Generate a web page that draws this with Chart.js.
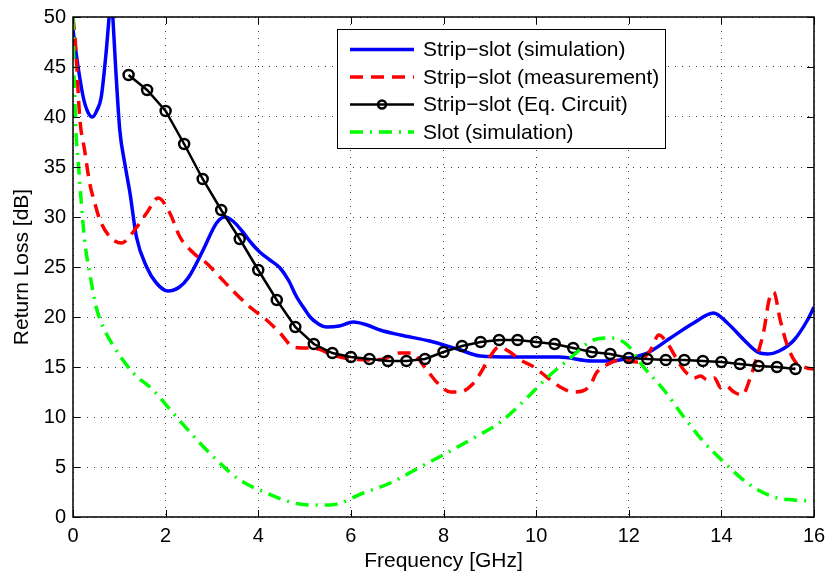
<!DOCTYPE html>
<html>
<head>
<meta charset="utf-8">
<script src="https://cdn.jsdelivr.net/npm/chart.js@4"></script>
<style>
  html, body { margin: 0; padding: 0; background: #fff; }
  #wrap { width: 827px; height: 577px; }
</style>
</head>
<body>
<div id="wrap"><canvas id="rl-chart" width="827" height="577"></canvas></div>
<script>
const FONT = `'Liberation Sans', Arial, Helvetica, sans-serif`;

// Strip-slot (simulation)
const simFreq = [0, 0.11, 0.22, 0.32, 0.42, 0.52, 0.61, 0.72, 0.78, 0.82, 0.86, 0.92, 1.01, 1.12, 1.23, 1.37, 1.59, 1.8, 2.05, 2.3, 2.5, 2.81, 3.1, 3.28, 3.45, 3.65, 3.85, 4.03, 4.25, 4.47, 4.65, 4.83, 5.0, 5.12, 5.3, 5.48, 5.75, 6.05, 6.35, 6.63, 7.07, 7.7, 8.3, 8.8, 9.5, 10.0, 10.5, 11.2, 11.6, 12.0, 12.4, 12.9, 13.4, 13.83, 14.13, 14.49, 14.78, 15.0, 15.25, 15.57, 15.86, 16];
const simRL = [48.7, 45, 42, 40.5, 40, 40.7, 42, 46.7, 50, 52.5, 50, 45, 38.7, 35.3, 32.4, 28, 25, 23.4, 22.6, 23, 24, 26.7, 29.4, 30, 29.6, 28.6, 27.4, 26.5, 25.7, 24.9, 23.7, 22, 20.8, 20, 19.3, 19, 19.1, 19.5, 19.2, 18.7, 18.2, 17.6, 16.8, 16.1, 16.0, 16.0, 16.0, 15.6, 15.6, 15.9, 16.4, 17.9, 19.4, 20.4, 19.4, 17.7, 16.5, 16.3, 16.6, 17.7, 19.7, 21];

// Strip-slot (measurement)
const measFreq = [0, 0.05, 0.15, 0.25, 0.36, 0.47, 0.58, 0.8, 1.05, 1.33, 1.59, 1.84, 2.09, 2.31, 2.6, 2.88, 3.17, 3.5, 3.82, 4.18, 4.47, 4.76, 5.0, 5.3, 5.6, 6.0, 6.4, 6.7, 7.06, 7.3, 7.64, 7.85, 8.15, 8.36, 8.61, 8.8, 9.0, 9.2, 9.4, 9.66, 9.95, 10.23, 10.52, 10.8, 11.0, 11.17, 11.3, 11.45, 11.82, 12.18, 12.47, 12.65, 12.83, 13.01, 13.19, 13.3, 13.41, 13.55, 13.7, 13.85, 13.99, 14.1, 14.27, 14.45, 14.63, 14.81, 14.92, 15.03, 15.13, 15.27, 15.42, 15.6, 15.85, 16];
const measRL = [50, 47.5, 39.7, 36.7, 33.4, 31.4, 29.7, 28, 27.4, 28.7, 30.4, 31.9, 30.4, 28, 26.4, 25.4, 24, 22.4, 21, 19.7, 18.4, 17, 16.9, 16.8, 16.2, 15.8, 15.7, 15.8, 16.4, 16.4, 14.7, 13.5, 12.5, 12.5, 13.2, 14.4, 16.0, 17.0, 16.6, 15.7, 15.0, 14.0, 13.0, 12.5, 12.6, 13.2, 14.4, 15.0, 15.7, 15.5, 16.7, 18.2, 17.4, 16.0, 14.7, 14.2, 13.9, 14.1, 13.7, 13.9, 12.9, 13.1, 12.5, 12.2, 14.0, 16.7, 18.7, 21.7, 22.5, 19.7, 17.2, 15.5, 14.9, 14.8];

// Strip-slot (Eq. Circuit)
const eqFreq = [1.2, 1.6, 2.0, 2.4, 2.8, 3.2, 3.6, 4.0, 4.4, 4.8, 5.2, 5.6, 6.0, 6.4, 6.8, 7.2, 7.6, 8.0, 8.4, 8.8, 9.2, 9.6, 10.0, 10.4, 10.8, 11.2, 11.6, 12.0, 12.4, 12.8, 13.2, 13.6, 14.0, 14.4, 14.8, 15.2, 15.6];
const eqRL = [44.2, 42.7, 40.6, 37.3, 33.8, 30.7, 27.8, 24.7, 21.7, 19.0, 17.3, 16.4, 16.0, 15.8, 15.6, 15.6, 15.8, 16.5, 17.1, 17.5, 17.7, 17.7, 17.5, 17.3, 16.9, 16.5, 16.3, 15.9, 15.8, 15.7, 15.7, 15.6, 15.5, 15.3, 15.1, 15.0, 14.8];

// Slot (simulation)
const slotFreq = [0, 0.02, 0.04, 0.07, 0.11, 0.18, 0.25, 0.36, 0.5, 0.65, 0.86, 1.3, 1.73, 2.16, 2.74, 3.1, 3.6, 4.18, 4.69, 5.12, 5.55, 6.27, 6.85, 7.5, 8.07, 8.65, 9.23, 9.8, 10.23, 10.74, 11.24, 11.6, 11.97, 12.32, 12.76, 13.19, 13.62, 14.05, 14.56, 15.13, 15.57, 16];
const slotRL = [50, 44.7, 41.7, 38, 35.7, 31.4, 27.7, 24.4, 21.0, 19.0, 17.2, 14.4, 12.7, 10.4, 7.4, 5.7, 3.7, 2.4, 1.5, 1.2, 1.2, 2.4, 3.4, 5.0, 6.4, 7.9, 9.5, 11.9, 13.9, 15.9, 17.7, 17.9, 17.2, 15.0, 12.7, 10.0, 7.5, 5.5, 3.4, 2.0, 1.7, 1.6];

const xTicks = [0, 2, 4, 6, 8, 10, 12, 14, 16];
const yTicks = [0, 5, 10, 15, 20, 25, 30, 35, 40, 45, 50];

let toPoints = (xs, ys) => xs.map((x, i) => ({ x: x, y: ys[i] }));

const BLUE = `#0000ff`;
const RED = `#ff0000`;
const BLACK = `#000000`;
const GREEN = `#00ff00`;

// box, inward ticks and legend drawn on top, MATLAB style
const framePlugin = {
	id: `frame`,
	afterDraw: (chart) =>
	{
		let ctx = chart.ctx;
		let a = chart.chartArea;
		let xs = chart.scales.x, ys = chart.scales.y;
		ctx.save();
		ctx.strokeStyle = `#000`;
		ctx.lineWidth = 1;
		ctx.setLineDash([]);
		ctx.beginPath();
		for (let v of xTicks)
		{
			let px = Math.round(xs.getPixelForValue(v)) + 0.5;
			ctx.moveTo(px, a.bottom); ctx.lineTo(px, a.bottom - 7);
			ctx.moveTo(px, a.top); ctx.lineTo(px, a.top + 7);
		}
		for (let v of yTicks)
		{
			let py = Math.round(ys.getPixelForValue(v)) + 0.5;
			ctx.moveTo(a.left, py); ctx.lineTo(a.left + 7, py);
			ctx.moveTo(a.right, py); ctx.lineTo(a.right - 7, py);
		}
		ctx.stroke();
		ctx.lineWidth = 1.5;
		ctx.strokeRect(a.left, a.top, a.right - a.left, a.bottom - a.top);

		// legend
		let lx = 337, ly = 29, lw = 328, lh = 119;
		ctx.fillStyle = `#fff`;
		ctx.fillRect(lx, ly, lw, lh);
		ctx.lineWidth = 1;
		ctx.strokeRect(lx + 0.5, ly + 0.5, lw, lh);
		ctx.font = `21px ${FONT}`;
		ctx.textBaseline = `middle`;
		chart.data.datasets.forEach((ds, i) =>
		{
			let yy = 49.5 + i * 27.5;
			ctx.strokeStyle = ds.borderColor;
			ctx.lineWidth = ds.borderWidth;
			ctx.setLineDash(ds.borderDash || []);
			ctx.beginPath();
			ctx.moveTo(350, yy); ctx.lineTo(414, yy);
			ctx.stroke();
			if (ds.pointRadius > 0)
			{
				ctx.setLineDash([]);
				ctx.lineWidth = ds.pointBorderWidth;
				ctx.beginPath();
				ctx.arc(382, yy, ds.pointRadius - 1, 0, Math.PI * 2);
				ctx.stroke();
			}
			ctx.fillStyle = `#000`;
			ctx.fillText(ds.label, 423, yy + 1);
		});
		ctx.restore();
	},
};

let rlChart = new Chart(document.getElementById(`rl-chart`).getContext(`2d`),
{
	type: `line`,
	data: {
		datasets: [
		{
			label: `Strip\u2212slot (simulation)`,
			data: toPoints(simFreq, simRL),
			borderColor: BLUE,
			borderWidth: 3.5,
			pointRadius: 0,
			cubicInterpolationMode: `monotone`,
			order: 4,
		},
		{
			label: `Strip\u2212slot (measurement)`,
			data: toPoints(measFreq, measRL),
			borderColor: RED,
			borderWidth: 3.5,
			borderDash: [13, 8],
			pointRadius: 0,
			cubicInterpolationMode: `monotone`,
			order: 3,
		},
		{
			label: `Strip\u2212slot (Eq. Circuit)`,
			data: toPoints(eqFreq, eqRL),
			borderColor: BLACK,
			borderWidth: 2.5,
			pointRadius: 5,
			pointBorderWidth: 2.5,
			pointBorderColor: BLACK,
			pointBackgroundColor: `rgba(0,0,0,0)`,
			tension: 0,
			order: 2,
		},
		{
			label: `Slot (simulation)`,
			data: toPoints(slotFreq, slotRL),
			borderColor: GREEN,
			borderWidth: 3.5,
			borderDash: [13, 7, 2, 7],
			pointRadius: 0,
			cubicInterpolationMode: `monotone`,
			order: 1,
		},],
	},
	options: {
		responsive: false,
		animation: false,
		layout: { padding: { top: 17, right: 13, left: 0, bottom: 0 } },
		plugins: {
			legend: { display: false },
			tooltip: { enabled: false },
		},
		scales: {
			x: {
				type: `linear`,
				min: 0,
				max: 16,
				afterFit: (scale) => { scale.height = 60; scale.paddingLeft = 0; scale.paddingRight = 0; },
				afterBuildTicks: (scale) => { scale.ticks = xTicks.map(v => ({ value: v })); },
				ticks: { color: `#000`, font: { size: 20, family: FONT }, padding: 7, maxRotation: 0 },
				grid: { color: `rgba(0,0,0,0.75)`, lineWidth: 1, drawTicks: false },
				border: { display: false, dash: [1, 6] },
				title: { display: true, text: `Frequency [GHz]`, color: `#000`, font: { size: 21, family: FONT }, padding: { top: 0, bottom: 3 } },
			},
			y: {
				type: `linear`,
				min: 0,
				max: 50,
				afterFit: (scale) => { scale.width = 73; scale.paddingTop = 0; scale.paddingBottom = 0; },
				afterBuildTicks: (scale) => { scale.ticks = yTicks.map(v => ({ value: v })); },
				ticks: { color: `#000`, font: { size: 20, family: FONT }, padding: 7 },
				grid: { color: `rgba(0,0,0,0.75)`, lineWidth: 1, drawTicks: false },
				border: { display: false, dash: [1, 6] },
				title: { display: true, text: `Return Loss [dB]`, color: `#000`, font: { size: 21, family: FONT }, padding: { top: 10, bottom: 0 } },
			},
		},
	},
	plugins: [framePlugin],
});
</script>
</body>
</html>
